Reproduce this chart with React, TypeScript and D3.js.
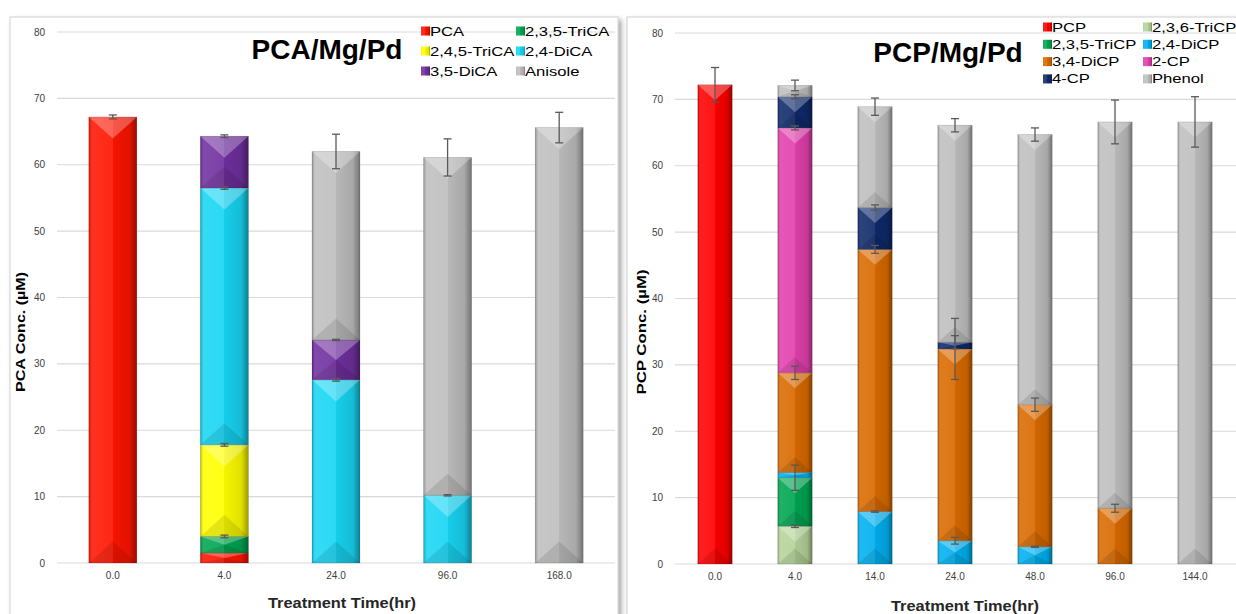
import * as d3 from 'd3';
import React from 'react';

// PCA / Mg / Pd panel
const pcaTimes = ['0.0', '4.0', '24.0', '96.0', '168.0'];
const pcaSeries = ['PCA', '2,3,5-TriCA', '2,4,5-TriCA', '2,4-DiCA', '3,5-DiCA', 'Anisole'];
const pcaColors = ['#ff1500', '#00a651', '#ffff00', '#18d6f4', '#7030a0', '#bfbfbf'];
const pcaValues = [
  [67.2, 1.5, 0, 0, 0],
  [0, 2.5, 0, 0, 0],
  [0, 13.8, 0, 0, 0],
  [0, 38.7, 27.6, 10.2, 0],
  [0, 7.8, 6.0, 0, 0],
  [0, 0, 28.4, 50.9, 65.6],
];
const pcaErrors = [
  [0.3, 0, 0, 0, 0],
  [0, 0.2, 0, 0, 0],
  [0, 0.2, 0, 0, 0],
  [0, 0.2, 0.2, 0.1, 0],
  [0, 0.2, 0.1, 0, 0],
  [0, 0, 2.6, 2.8, 2.3],
];

// PCP / Mg / Pd panel
const pcpTimes = ['0.0', '4.0', '14.0', '24.0', '48.0', '96.0', '144.0'];
const pcpSeries = ['PCP', '2,3,6-TriCP', '2,3,5-TriCP', '2,4-DiCP', '3,4-DiCP', '2-CP', '4-CP', 'Phenol'];
const pcpColors = ['#ff0000', '#b5d39a', '#00a651', '#00b0f0', '#d96a00', '#e240ad', '#0f2a6b', '#bfbfbf'];
const pcpValues = [
  [72.2, 0, 0, 0, 0, 0, 0],
  [0, 5.7, 0, 0, 0, 0, 0],
  [0, 7.3, 0, 0, 0, 0, 0],
  [0, 0.8, 7.9, 3.5, 2.6, 0, 0],
  [0, 15.0, 39.5, 28.9, 21.4, 8.4, 0],
  [0, 36.9, 0, 0, 0, 0, 0],
  [0, 4.7, 6.3, 1.0, 0, 0, 0],
  [0, 1.7, 15.2, 32.7, 40.7, 58.2, 66.6],
];
const pcpErrors = [
  [2.6, 0, 0, 0, 0, 0, 0],
  [0, 0.2, 0, 0, 0, 0, 0],
  [0, 1.9, 0, 0, 0, 0, 0],
  [0, 0, 0.1, 0.5, 0.1, 0, 0],
  [0, 1.0, 0.6, 4.6, 1.0, 0.6, 0],
  [0, 0.3, 0, 0, 0, 0, 0],
  [0, 0.3, 0.4, 1.0, 0, 0, 0],
  [0, 0.8, 1.3, 1.0, 1.0, 3.3, 3.8],
];

const yTicks = [0, 10, 20, 30, 40, 50, 60, 70, 80];
const FONT = '"Liberation Sans", Arial, sans-serif';

interface PanelProps {
  times: string[];
  series: string[];
  colors: string[];
  values: number[][];
  errors: number[][];
  title: string;
  yTitle: string;
  frame: [number, number];
  xRange: [number, number];
  yRange: [number, number];
  titleX: number;
  titleY: number;
  xTitleX: number;
  xTitleY: number;
  yTitleX: number;
  yTitleY: number;
  yTitleLen: number;
  legendX: [number, number];
  legendY: number;
  legendStep: number;
}

function Panel(p: PanelProps) {
  const x = d3
    .scaleBand<string>()
    .domain(p.times)
    .range(p.xRange)
    .paddingInner(0.57)
    .paddingOuter(0.285);
  const y = d3.scaleLinear().domain([0, 80]).range(p.yRange);

  const rows = p.times.map((t, i) => {
    const r: Record<string, number | string> = { time: t };
    p.series.forEach((s, j) => (r[s] = p.values[j][i]));
    return r;
  });
  const stacked = d3.stack<Record<string, any>>().keys(p.series)(rows);
  const bw = x.bandwidth();
  const plotLeft = p.xRange[0];
  const plotRight = p.frame[1] - 3;

  return (
    <g>
      <rect
        x={p.frame[0]}
        y={17}
        width={p.frame[1] - p.frame[0]}
        height={620}
        fill="#fff"
        stroke="#d0d0d0"
        filter="url(#shadow)"
      />
      {yTicks.map((t) => (
        <g key={t}>
          <line x1={plotLeft} x2={plotRight} y1={y(t)} y2={y(t)} stroke="#d9d9d9" strokeWidth={1.2} />
          <text x={plotLeft - 12} y={y(t)} dy="0.35em" textAnchor="end" fontSize={10} fill="#404040">
            {t}
          </text>
        </g>
      ))}
      {stacked.map((layer, j) =>
        layer.map((d, i) => {
          const v = d[1] - d[0];
          if (v <= 0) return null;
          const x0 = x(p.times[i]) as number;
          const y0 = y(d[1]);
          const y1 = y(d[0]);
          const h = y1 - y0;
          const depth = Math.min(bw * 0.45, h * 0.5);
          const xc = x0 + bw / 2;
          return (
            <g key={`${j}-${i}`}>
              <rect x={x0} y={y0} width={bw} height={h} fill={p.colors[j]} />
              <rect x={x0} y={y0} width={bw} height={h} fill="url(#bevel)" />
              <polygon
                points={`${x0},${y0} ${x0 + bw},${y0} ${xc},${y0 + depth}`}
                fill="#fff"
                opacity={0.28}
              />
              <polygon
                points={`${x0},${y1} ${x0 + bw},${y1} ${xc},${y1 - depth}`}
                fill="#000"
                opacity={0.1}
              />
              <rect x={x0} y={y0} width={bw} height={h} fill="none" stroke="#000" strokeOpacity={0.15} strokeWidth={0.8} />
            </g>
          );
        })
      )}
      {stacked.map((layer, j) =>
        layer.map((d, i) => {
          const e = p.errors[j][i];
          if (d[1] - d[0] <= 0 || e <= 0) return null;
          const xc = (x(p.times[i]) as number) + bw / 2;
          const top = y(d[1] + e);
          const bot = y(d[1] - e);
          return (
            <g key={`e${j}-${i}`} stroke="#595959" strokeWidth={1.3}>
              <line x1={xc} x2={xc} y1={top} y2={bot} />
              <line x1={xc - 4} x2={xc + 4} y1={top} y2={top} />
              <line x1={xc - 4} x2={xc + 4} y1={bot} y2={bot} />
            </g>
          );
        })
      )}
      {p.times.map((t) => (
        <text
          key={t}
          x={(x(t) as number) + bw / 2}
          y={p.yRange[0] + 16}
          textAnchor="middle"
          fontSize={10}
          fill="#404040"
        >
          {t}
        </text>
      ))}
      <text
        x={p.xTitleX}
        y={p.xTitleY}
        textAnchor="middle"
        fontSize={15}
        fontWeight="bold"
        fill="#262626"
        textLength={148}
        lengthAdjust="spacingAndGlyphs"
      >
        Treatment Time(hr)
      </text>
      <text
        transform={`translate(${p.yTitleX},${p.yTitleY}) rotate(-90)`}
        textAnchor="middle"
        fontSize={13}
        fontWeight="bold"
        fill="#000"
        textLength={p.yTitleLen}
        lengthAdjust="spacingAndGlyphs"
      >
        {p.yTitle}
      </text>
      <text x={p.titleX} y={p.titleY} textAnchor="middle" fontSize={28} fontWeight="bold" fill="#000">
        {p.title}
      </text>
      {p.series.map((s, k) => {
        const lx = p.legendX[k % 2];
        const ly = p.legendY + Math.floor(k / 2) * p.legendStep;
        return (
          <g key={s}>
            <rect x={lx} y={ly - 4.5} width={9} height={9} fill={p.colors[k]} />
            <rect x={lx} y={ly - 4.5} width={9} height={9} fill="url(#bevel)" />
            <text
              transform={`translate(${lx + 9},${ly}) scale(1.28,1)`}
              dy="0.35em"
              fontSize={13}
              fill="#000"
            >
              {s}
            </text>
          </g>
        );
      })}
    </g>
  );
}

export default function App() {
  return (
    <svg
      width={1236}
      height={614}
      style={{ position: 'absolute', left: 0, top: 0, fontFamily: FONT, background: '#fff' }}
    >
      <defs>
        <linearGradient id="bevel" x1="0" x2="1" y1="0" y2="0">
          <stop offset="0" stopColor="#000" stopOpacity={0.25} />
          <stop offset="0.07" stopColor="#fff" stopOpacity={0.12} />
          <stop offset="0.5" stopColor="#fff" stopOpacity={0.08} />
          <stop offset="0.5" stopColor="#000" stopOpacity={0.04} />
          <stop offset="0.85" stopColor="#000" stopOpacity={0.12} />
          <stop offset="1" stopColor="#000" stopOpacity={0.4} />
        </linearGradient>
        <filter id="shadow" x="-5%" y="-5%" width="110%" height="110%">
          <feDropShadow dx={3} dy={3} stdDeviation={2.5} floodOpacity={0.35} />
        </filter>
      </defs>
      <Panel
        times={pcaTimes}
        series={pcaSeries}
        colors={pcaColors}
        values={pcaValues}
        errors={pcaErrors}
        title="PCA/Mg/Pd"
        yTitle="PCA Conc. (µM)"
        frame={[10, 618]}
        xRange={[57, 615]}
        yRange={[563, 32]}
        titleX={327}
        titleY={59}
        xTitleX={342}
        xTitleY={608}
        yTitleX={25}
        yTitleY={332}
        yTitleLen={120}
        legendX={[421, 516]}
        legendY={31}
        legendStep={20}
      />
      <Panel
        times={pcpTimes}
        series={pcpSeries}
        colors={pcpColors}
        values={pcpValues}
        errors={pcpErrors}
        title="PCP/Mg/Pd"
        yTitle="PCP  Conc. (µM)"
        frame={[627, 1245]}
        xRange={[675, 1235]}
        yRange={[564, 33]}
        titleX={948}
        titleY={62}
        xTitleX={965}
        xTitleY={611}
        yTitleX={646}
        yTitleY={332}
        yTitleLen={125}
        legendX={[1043, 1143]}
        legendY={27}
        legendStep={17.3}
      />
    </svg>
  );
}
